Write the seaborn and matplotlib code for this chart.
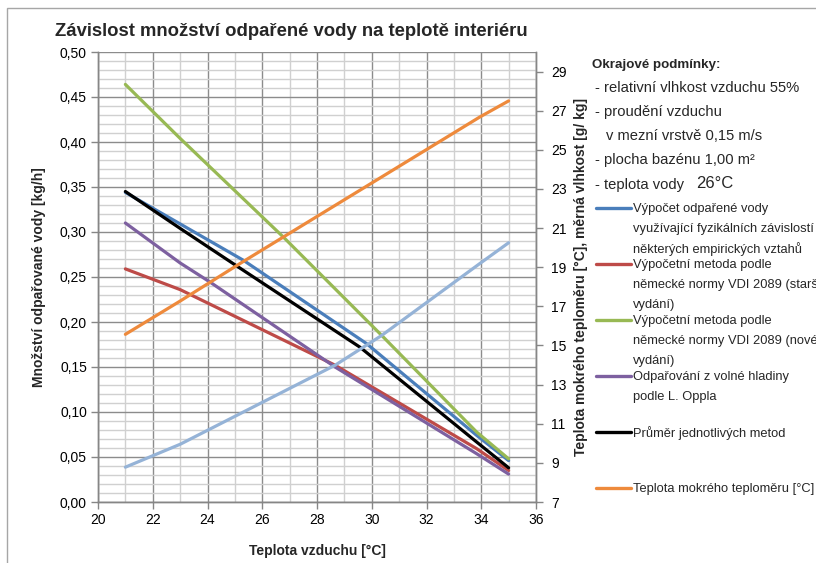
import matplotlib
matplotlib.use("Agg")
import matplotlib.pyplot as plt
import seaborn as sns
from matplotlib.lines import Line2D
from matplotlib.patches import Rectangle
from matplotlib.ticker import MultipleLocator, FuncFormatter

# ---- data (each series with the temperatures it was read at) ----
fyz_t = [21, 23, 25.31, 29.81, 33.83, 35]
fyz = [0.344, 0.309, 0.2686, 0.176, 0.0741, 0.046]
vdi_old_t = [21, 23, 28.66, 33.83, 35]
vdi_old = [0.259, 0.236, 0.152, 0.0593, 0.035]
vdi_new_t = [21, 23, 26.77, 30.36, 33.83, 35]
vdi_new = [0.464, 0.404, 0.2944, 0.1852, 0.0778, 0.048]
oppl_t = [21, 23, 24.09, 28.66, 33.83, 35]
oppl = [0.310, 0.2656, 0.2444, 0.150, 0.0537, 0.031]
prumer_t = [21, 23, 25.13, 29.57, 33.83, 35]
prumer = [0.345, 0.304, 0.261, 0.172, 0.0667, 0.038]
wet_bulb_t = [21, 23, 25.2, 33.95, 35]
wet_bulb = [15.57, 17.27, 19.2, 26.68, 27.5]
humidity_t = [21, 23, 28.66, 30.36, 33.95, 35]
humidity = [8.78, 9.95, 13.99, 15.51, 19.19, 20.25]

C_BLUE, C_RED, C_GREEN, C_PURPLE, C_BLACK = "#4A7EBB", "#BE4B48", "#98B954", "#7D60A0", "#000000"
C_ORANGE, C_LBLUE = "#EE8A3C", "#95B3D7"

left_series = [
    (fyz_t, fyz, C_BLUE),
    (vdi_old_t, vdi_old, C_RED),
    (vdi_new_t, vdi_new, C_GREEN),
    (oppl_t, oppl, C_PURPLE),
    (prumer_t, prumer, C_BLACK),
]
right_series = [
    (wet_bulb_t, wet_bulb, C_ORANGE),
    (humidity_t, humidity, C_LBLUE),
]

sns.set_theme(style="white")
plt.rcParams["font.family"] = ["Liberation Sans", "DejaVu Sans"]

W, H = 816, 563
fig = plt.figure(figsize=(W / 100, H / 100), dpi=100)
fig.patch.set_facecolor("white")

# outer chart frame
fig.add_artist(Rectangle((7 / W, -0.1), 1.2, 1 - 8 / H + 0.1, transform=fig.transFigure,
                         fill=False, edgecolor="#A6A6A6", lw=1.0))

ax = fig.add_axes([98 / W, 1 - 502 / H, (536 - 98) / W, (502 - 52) / H])
ax2 = ax.twinx()

lw = 2.3
for xs, vals, col in left_series:
    sns.lineplot(x=xs, y=vals, ax=ax, color=col, lw=lw, legend=False)
for xs, vals, col in right_series:
    sns.lineplot(x=xs, y=vals, ax=ax2, color=col, lw=lw, legend=False)

ax.set_xlim(20, 36)
ax.set_ylim(0, 0.5)
ax2.set_ylim(7, 30)

ax.xaxis.set_major_locator(MultipleLocator(2))
ax.xaxis.set_minor_locator(MultipleLocator(1))
ax.yaxis.set_major_locator(MultipleLocator(0.05))
ax.yaxis.set_minor_locator(MultipleLocator(0.01))
ax.yaxis.set_major_formatter(FuncFormatter(lambda v, p: f"{v:.2f}".replace(".", ",")))
ax2.set_yticks(list(range(7, 30, 2)))

ax.grid(which="minor", color="#D0D0D0", lw=1.0)
ax.grid(which="major", color="#8C8C8C", lw=1.0)
ax.set_axisbelow(True)

spine_col = "#868686"
for a in (ax, ax2):
    for s in a.spines.values():
        s.set_color(spine_col)
        s.set_linewidth(1.0)
    a.spines["top"].set_visible(False)
ax.tick_params(which="major", direction="out", length=5, color=spine_col, width=1,
               labelsize=10, labelcolor="black", left=True, bottom=True, pad=3)
ax.tick_params(which="minor", length=0)
ax2.tick_params(axis="y", direction="out", length=5, color=spine_col, width=1,
                labelsize=10, labelcolor="black", right=True, pad=6)

ax.set_xlabel("Teplota vzduchu [°C]", fontsize=10, fontweight="bold", labelpad=12)
ax.set_ylabel("Množství odpařované vody [kg/h]", fontsize=10, fontweight="bold", labelpad=10)
ax2.set_ylabel("Teplota mokrého teploměru [°C], měrná vlhkost [g/ kg]", fontsize=10,
               fontweight="bold", labelpad=5)

fig.text(55 / W, 1 - 31 / H, "Závislost množství odpařené vody na teplotě interiéru",
         fontsize=13.3, fontweight="bold", va="center", ha="left")

# boundary conditions text
def ftxt(x, y, s, **kw):
    kw.setdefault("fontsize", 10.6)
    fig.text(x / W, 1 - y / H, s, va="center", ha="left", **kw)

ftxt(592, 65, "Okrajové podmínky:", fontweight="bold", fontsize=9.6)
ftxt(595, 88, "- relativní vlhkost vzduchu 55%")
ftxt(595, 112, "- proudění vzduchu")
ftxt(606, 136, "v mezní vrstvě 0,15 m/s")
ftxt(595, 160, "- plocha bazénu 1,00 m²")
ftxt(595, 185, "- teplota vody")
ftxt(696, 184, "26°C", fontsize=12)

legend_entries = [
    (C_BLUE, 208, ["Výpočet odpařené vody", "využívající fyzikálních závislostí",
                   "některých empirických vztahů"]),
    (C_RED, 264, ["Výpočetní metoda podle", "německé normy VDI 2089 (starší",
                  "vydání)"]),
    (C_GREEN, 320, ["Výpočetní metoda podle", "německé normy VDI 2089 (nové",
                    "vydání)"]),
    (C_PURPLE, 376, ["Odpařování z volné hladiny", "podle L. Oppla"]),
    (C_BLACK, 432, ["Průměr jednotlivých metod"]),
    (C_ORANGE, 488, ["Teplota mokrého teploměru [°C]"]),
]
for col, y, lines in legend_entries:
    fig.add_artist(Line2D([596 / W, 631 / W], [1 - y / H, 1 - y / H], color=col, lw=2.4,
                          transform=fig.transFigure))
    for i, t in enumerate(lines):
        ftxt(633, y + 1 + i * 19.8, t, fontsize=9.25)

fig.savefig("out.png", dpi=100)
